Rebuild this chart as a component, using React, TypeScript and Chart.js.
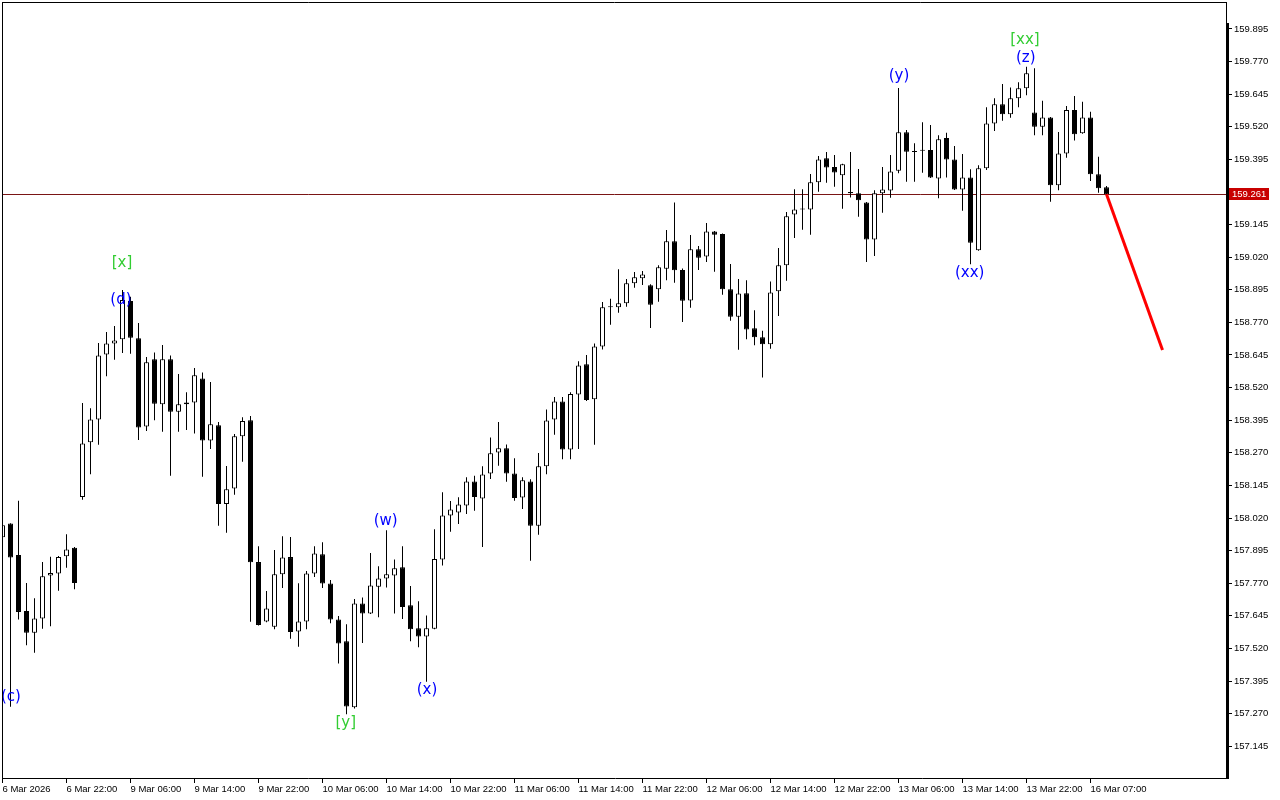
import React, { useEffect, useRef } from 'react';
import { Chart, registerables } from 'chart.js';

Chart.register(...registerables);

// Hourly candles, index 0 = 6 Mar 14:00
const opens = [
  157.946, 157.999, 157.878, 157.663, 157.580, 157.635, 157.800, 157.807, 157.873, 157.906,
  158.101, 158.310, 158.398, 158.647, 158.689, 158.705, 158.852, 158.709, 158.371, 158.629,
  158.456, 158.629, 158.427, 158.456, 158.463, 158.555, 158.317, 158.376, 158.074, 158.133,
  158.333, 158.395, 157.851, 157.623, 157.603, 157.804, 157.870, 157.585, 157.623, 157.807,
  157.881, 157.769, 157.631, 157.547, 157.294, 157.692, 157.654, 157.756, 157.788, 157.800,
  157.831, 157.685, 157.597, 157.566, 157.595, 157.861, 158.030, 158.041, 158.068, 158.160,
  158.095, 158.191, 158.271, 158.287, 158.191, 158.099, 158.160, 157.990, 158.218, 158.398,
  158.467, 158.283, 158.494, 158.610, 158.475, 158.678, 158.828, 158.828, 158.843, 158.920,
  158.939, 158.912, 158.897, 158.976, 159.081, 158.971, 158.854, 159.050, 159.023, 159.119,
  159.109, 158.897, 158.792, 158.882, 158.748, 158.713, 158.686, 158.889, 158.989, 159.184,
  159.203, 159.203, 159.307, 159.399, 159.366, 159.334, 159.270, 159.265, 159.230, 159.088,
  159.265, 159.276, 159.351, 159.499, 159.427, 159.429, 159.431, 159.322, 159.477, 159.395,
  159.280, 159.326, 159.047, 159.361, 159.533, 159.606, 159.568, 159.629, 159.668, 159.575,
  159.520, 159.556, 159.296, 159.418, 159.584, 159.495, 159.556, 159.338, 159.288,
];

const highs = [
  158.012, 158.000, 158.086, 157.771, 157.712, 157.851, 157.871, 157.874, 157.958, 157.909,
  158.461, 158.441, 158.691, 158.733, 158.756, 158.894, 158.868, 158.768, 158.637, 158.655,
  158.683, 158.643, 158.572, 158.502, 158.595, 158.578, 158.541, 158.388, 158.219, 158.342,
  158.406, 158.411, 157.912, 157.740, 157.897, 157.950, 157.947, 157.770, 157.817, 157.912,
  157.927, 157.782, 157.644, 157.613, 157.709, 157.715, 157.886, 157.835, 157.973, 157.861,
  157.912, 157.759, 157.701, 157.646, 157.977, 158.119, 158.085, 158.100, 158.176, 158.182,
  158.218, 158.329, 158.388, 158.302, 158.249, 158.176, 158.169, 158.269, 158.436, 158.484,
  158.484, 158.502, 158.621, 158.645, 158.689, 158.848, 158.861, 158.974, 158.936, 158.963,
  158.967, 158.916, 158.989, 159.124, 159.230, 158.977, 159.105, 159.063, 159.151, 159.120,
  159.111, 158.994, 158.936, 158.932, 158.817, 158.738, 158.927, 159.055, 159.193, 159.281,
  159.281, 159.339, 159.408, 159.423, 159.412, 159.378, 159.423, 159.358, 159.232, 159.277,
  159.366, 159.412, 159.669, 159.508, 159.457, 159.537, 159.527, 159.488, 159.497, 159.446,
  159.416, 159.357, 159.373, 159.595, 159.629, 159.684, 159.671, 159.691, 159.750, 159.744,
  159.620, 159.558, 159.500, 159.600, 159.638, 159.616, 159.578, 159.405, 159.293,
];

const lows = [
  157.935, 157.296, 157.631, 157.532, 157.503, 157.595, 157.605, 157.741, 157.829, 157.747,
  158.090, 158.188, 158.301, 158.564, 158.627, 158.653, 158.650, 158.319, 158.354, 158.395,
  158.351, 158.182, 158.351, 158.357, 158.344, 158.178, 158.285, 157.990, 157.963, 158.109,
  158.236, 157.622, 157.608, 157.620, 157.593, 157.752, 157.557, 157.526, 157.593, 157.794,
  157.752, 157.616, 157.462, 157.268, 157.290, 157.541, 157.652, 157.639, 157.754, 157.654,
  157.633, 157.547, 157.524, 157.392, 157.593, 157.838, 157.967, 157.997, 158.035, 158.048,
  157.909, 158.170, 158.220, 158.159, 158.086, 158.055, 157.856, 157.956, 158.188, 158.339,
  158.245, 158.245, 158.285, 158.469, 158.301, 158.666, 158.761, 158.807, 158.830, 158.903,
  158.913, 158.749, 158.849, 158.932, 158.922, 158.772, 158.826, 158.971, 159.002, 158.964,
  158.876, 158.776, 158.665, 158.705, 158.682, 158.559, 158.669, 158.795, 158.930, 159.094,
  159.125, 159.106, 159.271, 159.305, 159.290, 159.206, 159.249, 159.175, 159.002, 159.025,
  159.190, 159.248, 159.342, 159.309, 159.309, 159.344, 159.324, 159.246, 159.326, 159.278,
  159.198, 158.993, 159.045, 159.354, 159.504, 159.543, 159.555, 159.595, 159.641, 159.488,
  159.488, 159.233, 159.277, 159.401, 159.467, 159.493, 159.312, 159.267, 159.259,
];

const closes = [
  157.992, 157.869, 157.660, 157.580, 157.635, 157.797, 157.809, 157.870, 157.899, 157.771,
  158.306, 158.398, 158.643, 158.689, 158.701, 158.856, 158.711, 158.367, 158.617, 158.458,
  158.629, 158.427, 158.456, 158.463, 158.567, 158.317, 158.379, 158.074, 158.130, 158.333,
  158.392, 157.850, 157.610, 157.673, 157.804, 157.869, 157.583, 157.623, 157.807, 157.884,
  157.769, 157.631, 157.539, 157.297, 157.692, 157.654, 157.761, 157.788, 157.804, 157.827,
  157.679, 157.593, 157.566, 157.597, 157.863, 158.030, 158.053, 158.072, 158.160, 158.101,
  158.187, 158.268, 158.287, 158.191, 158.097, 158.165, 157.990, 158.218, 158.394, 158.467,
  158.283, 158.495, 158.605, 158.472, 158.678, 158.828, 158.828, 158.843, 158.920, 158.943,
  158.954, 158.838, 158.981, 159.081, 158.970, 158.853, 159.050, 159.018, 159.119, 159.106,
  158.897, 158.792, 158.881, 158.743, 158.713, 158.686, 158.885, 158.989, 159.177, 159.203,
  159.203, 159.307, 159.395, 159.364, 159.345, 159.376, 159.265, 159.238, 159.088, 159.265,
  159.280, 159.349, 159.499, 159.424, 159.423, 159.428, 159.326, 159.472, 159.395, 159.280,
  159.326, 159.075, 159.361, 159.533, 159.606, 159.568, 159.629, 159.668, 159.725, 159.520,
  159.556, 159.296, 159.418, 159.584, 159.491, 159.556, 159.338, 159.284, 159.261,
];

// Time-axis labels, one every 8 bars starting at bar 0
const xTickLabels = [
  '6 Mar 2026', '6 Mar 22:00', '9 Mar 06:00', '9 Mar 14:00', '9 Mar 22:00', '10 Mar 06:00',
  '10 Mar 14:00', '10 Mar 22:00', '11 Mar 06:00', '11 Mar 14:00', '11 Mar 22:00', '12 Mar 06:00',
  '12 Mar 14:00', '12 Mar 22:00', '13 Mar 06:00', '13 Mar 14:00', '13 Mar 22:00', '16 Mar 07:00',
];
const xTickStep = 8;

const yTickValues = [
  159.895, 159.770, 159.645, 159.520, 159.395, 159.270, 159.145, 159.020, 158.895, 158.770,
  158.645, 158.520, 158.395, 158.270, 158.145, 158.020, 157.895, 157.770, 157.645, 157.520,
  157.395, 157.270, 157.145,
];

const currentPrice = 159.261;

// Forecast (red) line
const forecastBars = [138, 145];
const forecastPrices = [159.261, 158.664];

// Elliott wave labels
const waveTexts = ['[x]', '(d)', '(c)', '[y]', '(w)', '(x)', '(y)', '(xx)', '[xx]', '(z)'];
const waveBars = [14.94, 14.8, 1.06, 42.9, 47.9, 53.06, 112.06, 120.9, 127.8, 127.9];
const wavePrices = [158.998, 158.856, 157.334, 157.234, 158.009, 157.361, 159.715, 158.959, 159.853, 159.784];
const waveKinds = ['g', 'b', 'b', 'g', 'b', 'b', 'b', 'b', 'g', 'b'];

const GREEN = '#32cd32';
const BLUE = '#0000ff';
const PRICE_LINE = '#7a1515';
const PRICE_BOX = '#c80000';
const AXIS_FONT = { family: "'Liberation Sans', Arial, sans-serif", size: 9.5 };

export default function App() {
  const ref = useRef<HTMLCanvasElement>(null);

  useEffect(() => {
    document.body.style.margin = '0';
    const canvas = ref.current;
    if (!canvas) return;

    const idx = closes.map((_, i) => i);
    const wickData = idx.map((i) => ({ x: i, y: [lows[i], highs[i]] }));
    const bodyData = idx.map((i) => ({ x: i, y: [opens[i], closes[i]] }));
    const bodyColors = idx.map((i) => (closes[i] < opens[i] ? '#000000' : '#ffffff'));
    const forecastData = forecastBars.map((b, k) => ({ x: b, y: forecastPrices[k] }));

    const overlay = {
      id: 'overlay',
      beforeDatasetsDraw(chart: any) {
        const { ctx, chartArea: a, scales } = chart;
        const y = Math.round(scales.y.getPixelForValue(currentPrice)) + 0.5;
        ctx.save();
        ctx.strokeStyle = PRICE_LINE;
        ctx.lineWidth = 1;
        ctx.beginPath();
        ctx.moveTo(a.left, y);
        ctx.lineTo(a.right, y);
        ctx.stroke();
        ctx.restore();
      },
      afterDatasetsDraw(chart: any) {
        const { ctx, chartArea: a, scales } = chart;
        ctx.save();
        ctx.beginPath();
        ctx.rect(a.left, a.top, a.right - a.left, a.bottom - a.top);
        ctx.clip();
        ctx.font = "15px 'DejaVu Sans', Verdana, sans-serif";
        ctx.textAlign = 'center';
        ctx.textBaseline = 'middle';
        waveTexts.forEach((t, k) => {
          ctx.fillStyle = waveKinds[k] === 'g' ? GREEN : BLUE;
          ctx.fillText(t, scales.x.getPixelForValue(waveBars[k]), scales.y.getPixelForValue(wavePrices[k]));
        });
        ctx.restore();
      },
      afterDraw(chart: any) {
        const { ctx, chartArea: a, scales } = chart;
        ctx.save();
        ctx.strokeStyle = '#000';
        ctx.fillStyle = '#000';
        ctx.lineWidth = 1;
        ctx.beginPath();
        ctx.moveTo(a.left, a.top + 0.5);
        ctx.lineTo(a.right, a.top + 0.5);
        ctx.moveTo(a.left + 0.5, a.top);
        ctx.lineTo(a.left + 0.5, a.bottom);
        ctx.moveTo(a.left, a.bottom + 0.5);
        ctx.lineTo(a.right + 2, a.bottom + 0.5);
        ctx.moveTo(a.right - 0.5, a.top);
        ctx.lineTo(a.right - 0.5, a.top + 21);
        ctx.stroke();
        ctx.fillRect(a.right - 1, a.top + 21, 3, a.bottom - a.top - 20);
        // current price box
        const y = Math.round(scales.y.getPixelForValue(currentPrice));
        ctx.fillStyle = PRICE_BOX;
        ctx.fillRect(a.right + 2, y - 6, 40, 12);
        ctx.fillStyle = '#ffffff';
        ctx.font = `${AXIS_FONT.size}px ${AXIS_FONT.family}`;
        ctx.textAlign = 'left';
        ctx.textBaseline = 'middle';
        ctx.fillText(currentPrice.toFixed(3), a.right + 5, y + 0.5);
        ctx.restore();
      },
    };

    const chart = new Chart(canvas, {
      type: 'bar',
      data: {
        datasets: [
          {
            type: 'line',
            data: forecastData as any,
            borderColor: '#ff0000',
            borderWidth: 3,
            pointRadius: 0,
            order: 0,
          } as any,
          {
            data: bodyData as any,
            backgroundColor: bodyColors,
            borderColor: '#000000',
            borderWidth: 1,
            borderSkipped: false,
            barThickness: 5,
            minBarLength: 1,
            inflateAmount: 0,
            grouped: false,
            order: 1,
          } as any,
          {
            data: wickData as any,
            backgroundColor: '#000000',
            borderWidth: 0,
            barThickness: 1,
            inflateAmount: 0,
            grouped: false,
            order: 2,
          } as any,
        ],
      },
      options: {
        responsive: false,
        animation: false,
        devicePixelRatio: 1,
        layout: { padding: { left: 2, top: 2, right: 0, bottom: 0 } },
        plugins: { legend: { display: false }, tooltip: { enabled: false } },
        scales: {
          x: {
            type: 'linear',
            position: 'bottom',
            min: -0.0625,
            max: 153.0625,
            offset: false,
            afterBuildTicks: (s: any) => {
              s.ticks = xTickLabels.map((_, k) => ({ value: k * xTickStep }));
            },
            afterFit: (s: any) => {
              s.height = 22;
              s.paddingLeft = 0;
              s.paddingRight = 0;
            },
            ticks: {
              autoSkip: false,
              maxRotation: 0,
              minRotation: 0,
              align: 'start',
              padding: 1,
              color: '#000',
              font: AXIS_FONT,
              callback: (_v: any, i: number) => xTickLabels[i],
            },
            grid: { drawOnChartArea: false, drawTicks: true, tickLength: 5, color: '#000', offset: false },
            border: { display: false },
          } as any,
          y: {
            type: 'linear',
            position: 'right',
            min: 157.0231,
            max: 159.9985,
            afterBuildTicks: (s: any) => {
              s.ticks = yTickValues.map((v) => ({ value: v }));
            },
            afterFit: (s: any) => {
              s.width = 53;
              s.paddingTop = 0;
              s.paddingBottom = 0;
            },
            ticks: {
              padding: 2,
              color: '#000',
              font: AXIS_FONT,
              callback: (v: any) => Number(v).toFixed(3),
            },
            grid: { drawOnChartArea: false, drawTicks: true, tickLength: 5, color: '#000' },
            border: { display: false },
          } as any,
        },
      },
      plugins: [overlay],
    });

    return () => chart.destroy();
  }, []);

  return (
    <canvas
      ref={ref}
      width={1280}
      height={800}
      style={{ display: 'block', width: 1280, height: 800, background: '#ffffff' }}
    />
  );
}
